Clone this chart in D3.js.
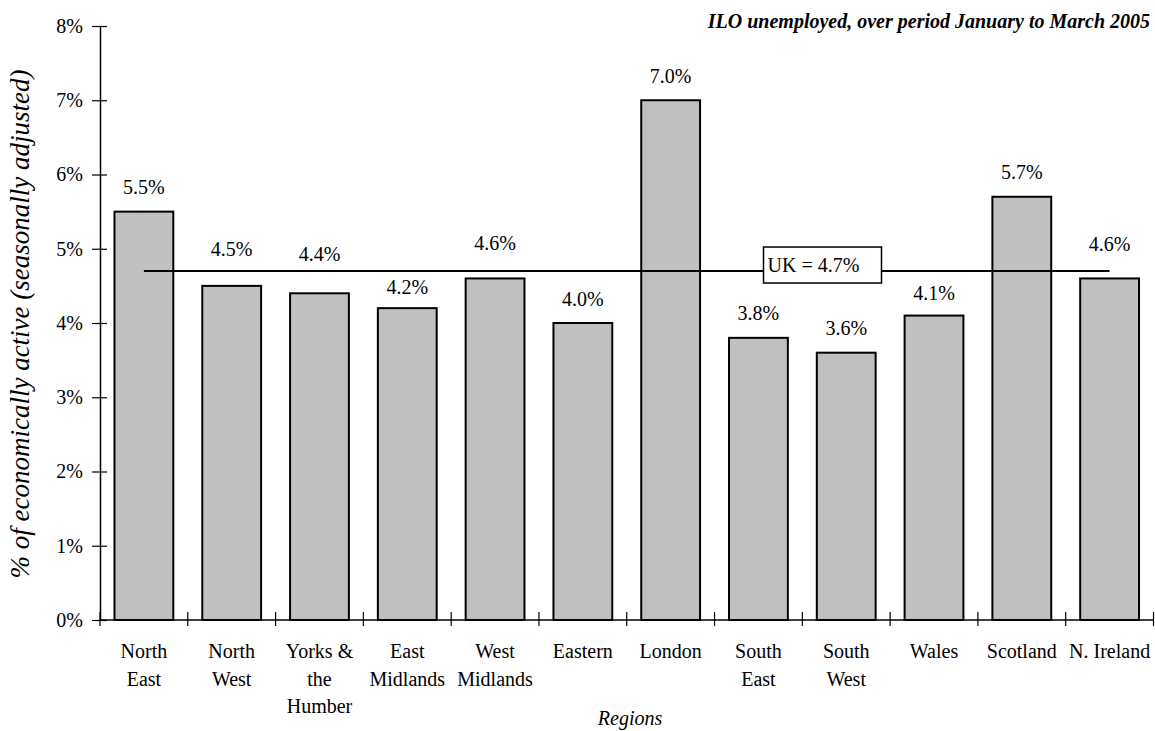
<!DOCTYPE html>
<html>
<head>
<meta charset="utf-8">
<script src="https://cdn.jsdelivr.net/npm/d3@7"></script>
<style>
  html, body { margin: 0; padding: 0; background: #fff; }
  svg { display: block; }
  svg text { font-family: "Liberation Serif", "Times New Roman", serif; fill: #000; }
</style>
</head>
<body>
<svg id="chart" width="1155" height="731"></svg>
<script>
// Regional ILO unemployment rates, January–March 2005
const regions = [
  "North East", "North West", "Yorks & the Humber", "East Midlands",
  "West Midlands", "Eastern", "London", "South East", "South West",
  "Wales", "Scotland", "N. Ireland"
];
const rates = [5.5, 4.5, 4.4, 4.2, 4.6, 4.0, 7.0, 3.8, 3.6, 4.1, 5.7, 4.6];
const ukRate = 4.7;
const yTicks = [0, 1, 2, 3, 4, 5, 6, 7, 8];
// how each category name breaks over lines
const regionLines = [
  ["North", "East"], ["North", "West"], ["Yorks &", "the", "Humber"],
  ["East", "Midlands"], ["West", "Midlands"], ["Eastern"], ["London"],
  ["South", "East"], ["South", "West"], ["Wales"], ["Scotland"], ["N. Ireland"]
];

const svg = d3.select("#chart");
const plotLeft = 100, plotRight = 1153.5, plotTop = 26, plotBottom = 620;

const x = d3.scaleBand().domain(regions).range([plotLeft, plotRight])
  .paddingInner(0.33).paddingOuter(0.165);
const y = d3.scaleLinear().domain([0, 8]).range([plotBottom, plotTop]);

// value labels lifted clear of the UK reference line
const labelLift = { "North West": 12.5, "Yorks & the Humber": 14.5, "West Midlands": 10.5,
                    "N. Ireland": 10, "East Midlands": -3.5, "Wales": -1.5 };

// bars
svg.append("g").selectAll("rect").data(regions).join("rect")
  .attr("x", d => x(d))
  .attr("y", (d, i) => y(rates[i]))
  .attr("width", x.bandwidth())
  .attr("height", (d, i) => y(0) - y(rates[i]))
  .attr("fill", "#c0c0c0")
  .attr("stroke", "#000")
  .attr("stroke-width", 2);

// y axis
const yAxis = svg.append("g").attr("transform", `translate(${plotLeft},0)`)
  .call(d3.axisLeft(y).tickValues(yTicks).tickFormat(d => d + "%").tickSizeInner(7).tickSizeOuter(0).tickPadding(10));
yAxis.select(".domain").attr("stroke", "#000").attr("stroke-width", 1.5);
yAxis.selectAll(".tick line").attr("x2", 7).attr("x1", -8).attr("stroke-width", 1.2);
yAxis.selectAll(".tick text").attr("font-size", 20).attr("x", -17)
  .attr("font-family", "Liberation Serif");

// x axis with ticks on category boundaries
const xAxis = svg.append("g").attr("transform", `translate(0,${plotBottom})`);
xAxis.append("line").attr("x1", plotLeft).attr("x2", plotRight).attr("stroke", "#000").attr("stroke-width", 1.5);
const bounds = regions.map(d => x(d) - x.step() * x.paddingInner() / 2).concat([plotRight]);
xAxis.selectAll("line.tk").data(bounds).join("line").attr("class", "tk")
  .attr("x1", d => d).attr("x2", d => d).attr("y1", -8).attr("y2", 6)
  .attr("stroke", "#000").attr("stroke-width", 1.2);
const cat = xAxis.selectAll("text.cat").data(regions).join("text").attr("class", "cat")
  .attr("text-anchor", "middle").attr("font-size", 20);
cat.each(function(d, i) {
  d3.select(this).selectAll("tspan").data(regionLines[i]).join("tspan")
    .attr("x", x(d) + x.bandwidth() / 2)
    .attr("y", (l, j) => 38 + j * 27.5)
    .text(l => l);
});

// UK average line
const ukY = y(ukRate);
svg.append("line")
  .attr("x1", x(regions[0]) + x.bandwidth() / 2)
  .attr("x2", x(regions[regions.length - 1]) + x.bandwidth() / 2)
  .attr("y1", ukY).attr("y2", ukY)
  .attr("stroke", "#000").attr("stroke-width", 2);

// UK label box
const ukBox = svg.append("g").attr("transform", `translate(822.5,${ukY - 6})`);
ukBox.append("rect").attr("x", -59).attr("y", -18).attr("width", 118).attr("height", 36)
  .attr("fill", "#fff").attr("stroke", "#000").attr("stroke-width", 1.5);
ukBox.append("text").attr("x", -55).attr("y", 7).attr("font-size", 20)
  .text("UK = " + ukRate.toFixed(1) + "%");

// value labels
svg.append("g").selectAll("text").data(regions).join("text")
  .attr("x", d => x(d) + x.bandwidth() / 2)
  .attr("y", (d, i) => y(rates[i]) - 17.5 - (labelLift[d] || 0))
  .attr("text-anchor", "middle").attr("font-size", 20)
  .text((d, i) => rates[i].toFixed(1) + "%");

// titles
svg.append("text").attr("x", 1150).attr("y", 28).attr("text-anchor", "end")
  .attr("font-size", 20).attr("font-weight", "bold").attr("font-style", "italic")
  .text("ILO unemployed, over period January to March 2005");

svg.append("text").attr("transform", `translate(29,${(plotTop + plotBottom) / 2 + 1}) rotate(-90)`)
  .attr("text-anchor", "middle").attr("font-size", 27).attr("font-style", "italic")
  .text("% of economically active (seasonally adjusted)");

svg.append("text").attr("x", 630).attr("y", 725).attr("text-anchor", "middle")
  .attr("font-size", 20).attr("font-style", "italic").text("Regions");
</script>
</body>
</html>
